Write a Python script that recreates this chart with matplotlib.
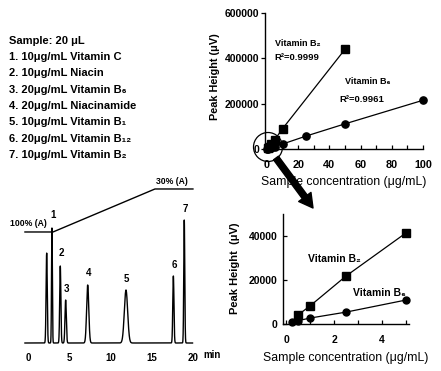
import matplotlib
matplotlib.use('Agg')
import matplotlib.pyplot as plt
import numpy as np
from matplotlib.patches import Ellipse

plt.rcParams['font.family'] = ['Liberation Sans', 'DejaVu Sans']
plt.rcParams['font.weight'] = 'bold'

W, H = 441, 371

# ---------------- data ----------------
sample_volume = "Sample: 20 μL"
sample_conc = [10, 10, 20, 20, 10, 20, 10]
sample_names = ["Vitamin C", "Niacin", "Vitamin B₆", "Niacinamide",
                "Vitamin B₁", "Vitamin B₁₂", "Vitamin B₂"]

b2_conc = [0.5, 1, 2.5, 5, 10, 50]
b2_height = [4100, 8200, 21800, 41400, 90000, 440000]
b6_conc = [0.25, 0.5, 1, 2.5, 5, 10, 25, 50, 100]
b6_height = [700, 1500, 2700, 5400, 10900, 22000, 57000, 111000, 215000]

peak_times = [2.23, 2.87, 3.88, 4.53, 7.2, 11.84, 17.58, 18.9]
peak_heights = [90, 115, 77, 43, 58, 53, 67, 123]
peak_widths = [0.07, 0.05, 0.07, 0.08, 0.13, 0.2, 0.07, 0.06]
peak_labels = ["", "1", "2", "3", "4", "5", "6", "7"]

grad_time = [-0.4, 3.0, 15.35, 19.95]
grad_pct = [100, 100, 30, 30]

chrom_ticks = [0, 5, 10, 15, 20]


def fx(px):
    return px / W


def fy(py):
    return 1 - py / H


def rect(l, t, r, b):
    return [fx(l), fy(b), fx(r) - fx(l), fy(t) - fy(b)]


fig = plt.figure(figsize=(W / 100, H / 100), dpi=100)

# ---------------- left text list ----------------
fig.text(fx(9), fy(41), sample_volume, fontsize=8, va='center', ha='left')
for i, (c, n) in enumerate(zip(sample_conc, sample_names)):
    fig.text(fx(9), fy(57 + i * 16.3), f"{i + 1}. {c}μg/mL {n}",
             fontsize=8, va='center', ha='left')

# ---------------- top-right calibration ----------------
ax1 = fig.add_axes(rect(265, 13, 423, 149))
ax1.plot(b2_conc, b2_height, color='black', lw=0.9, marker='s', ms=5.5,
         clip_on=False, zorder=3)
ax1.plot(b6_conc, b6_height, color='black', lw=0.9, marker='o', ms=5.2,
         clip_on=False, zorder=3)
ax1.set_xlim(-1.3, 100)
ax1.set_ylim(0, 600000)
ax1.set_xticks([0, 20, 40, 60, 80, 100])
ax1.set_xticks(np.arange(10, 101, 10), minor=True)
ax1.set_yticks([0, 200000, 400000, 600000])
ax1.tick_params(axis='x', which='major', direction='in', length=3, pad=8,
                labelsize=7.8, width=0.9)
ax1.tick_params(axis='x', which='minor', direction='in', length=3, width=0.9)
ax1.tick_params(axis='y', direction='out', length=3, pad=1, labelsize=7.5,
                width=0.9)
for s in ['top', 'right']:
    ax1.spines[s].set_visible(False)
for s in ['left', 'bottom']:
    ax1.spines[s].set_linewidth(1.0)
ax1.set_xlabel("Sample concentration (μg/mL)", fontsize=8.8, labelpad=4)
fig.text(fx(215), fy(77), "Peak Height (μV)", rotation=90, fontsize=7.8,
         ha='center', va='center')
ax1.text(fx(275), fy(43), "Vitamin B₂", transform=fig.transFigure,
         fontsize=6.5, ha='left', va='center')
ax1.text(fx(274), fy(58), "R²=0.9999", transform=fig.transFigure,
         fontsize=6.8, ha='left', va='center')
ax1.text(fx(345), fy(82), "Vitamin B₆", transform=fig.transFigure,
         fontsize=6.5, ha='left', va='center')
ax1.text(fx(339), fy(99), "R²=0.9961", transform=fig.transFigure,
         fontsize=6.8, ha='left', va='center')

# circle and arrow
circ = Ellipse((fx(268), fy(147)), 29 / W, 29 / H,
               transform=fig.transFigure, fill=False, ec='black', lw=0.9)
fig.add_artist(circ)
ax1.annotate("", xy=(313, H - 208), xycoords='figure pixels',
             xytext=(276, H - 158), textcoords='figure pixels',
             arrowprops=dict(arrowstyle='simple,head_length=0.9,head_width=1.0,tail_width=0.4',
                             color='black', mutation_scale=11,
                             shrinkA=0, shrinkB=0))

# ---------------- bottom-right zoomed calibration ----------------
ax2 = fig.add_axes(rect(283, 214, 409, 324))
ax2.plot(b2_conc[:4], b2_height[:4], color='black', lw=0.9, marker='s',
         ms=5.2, clip_on=False, zorder=3)
ax2.plot(b6_conc[:5], b6_height[:5], color='black', lw=0.9, marker='o',
         ms=5.0, clip_on=False, zorder=3)
ax2.set_xlim(-0.125, 5.125)
ax2.set_ylim(0, 50000)
ax2.set_xticks([0, 2, 4])
ax2.set_xticks([1, 3, 5], minor=True)
ax2.set_yticks([0, 20000, 40000])
ax2.tick_params(axis='x', which='major', direction='in', length=3, pad=8,
                labelsize=7.5, width=0.9)
ax2.tick_params(axis='x', which='minor', direction='in', length=3, width=0.9)
ax2.tick_params(axis='y', direction='in', length=3, pad=4, labelsize=7.5,
                width=0.9)
for s in ['top', 'right']:
    ax2.spines[s].set_visible(False)
for s in ['left', 'bottom']:
    ax2.spines[s].set_linewidth(1.0)
ax2.set_xlabel("Sample concentration (μg/mL)", fontsize=8.8, labelpad=5)
fig.text(fx(235), fy(268), "Peak Height  (μV)", rotation=90, fontsize=8,
         ha='center', va='center')
fig.text(fx(308), fy(259), "Vitamin B₂", fontsize=7.5, ha='left', va='center')
fig.text(fx(353), fy(293), "Vitamin B₆", fontsize=7.5, ha='left', va='center')

# ---------------- chromatogram ----------------
ax3 = fig.add_axes(rect(20, 213, 201.6, 346))
t = np.linspace(-0.4, 19.9, 3000)
sig = np.zeros_like(t)
for pt, ph, pw in zip(peak_times, peak_heights, peak_widths):
    sig += ph * np.exp(-0.5 * ((t - pt) / pw) ** 2)
ax3.plot(t, sig, color='black', lw=1.0, clip_on=False)
ax3.set_xlim(-1, 21)
ax3.set_ylim(-3, 130)
for s in ax3.spines.values():
    s.set_visible(False)
ax3.set_yticks([])
ax3.set_xticks(chrom_ticks)
ax3.tick_params(axis='x', length=0, pad=5, labelsize=7)
label_offsets = [0, 6, 6, 4, 5, 4, 4, 4]
for pt, ph, lab, off in zip(peak_times, peak_heights, peak_labels, label_offsets):
    if lab:
        ax3.annotate(lab, (pt, ph), xytext=(0.5, off), textcoords='offset points',
                     ha='center', va='bottom', fontsize=7)
fig.text(fx(203), fy(355), "min", fontsize=7, ha='left', va='center')

ax4 = ax3.twinx()
ax4.plot(grad_time, grad_pct, color='black', lw=1.0, clip_on=False)
ax4.set_ylim(285.6, 69.1)
ax4.set_yticks([])
for s in ax4.spines.values():
    s.set_visible(False)
fig.text(fx(47), fy(223), "100% (A)", fontsize=6.2, ha='right', va='center')
fig.text(fx(156), fy(182), "30% (A)", fontsize=6.2, ha='left', va='center')

fig.savefig("out.png", dpi=100)
